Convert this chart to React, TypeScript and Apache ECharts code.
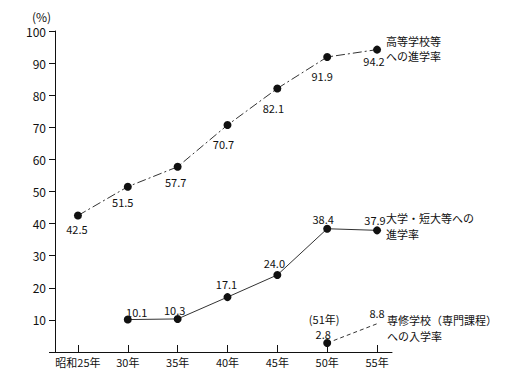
import React, { useEffect, useRef } from "react";
import * as echarts from "echarts";

const years = [25, 30, 35, 40, 45, 50, 55];
const yearLabels = ["昭和25年", "30年", "35年", "40年", "45年", "50年", "55年"];
const highSchool = [42.5, 51.5, 57.7, 70.7, 82.1, 91.9, 94.2];
const university = [null, 10.1, 10.3, 17.1, 24.0, 38.4, 37.9];
const vocational = [null, null, null, null, null, 2.8, 8.8];
const vocationalNote = "(51年)";
const yTicks = [10, 20, 30, 40, 50, 60, 70, 80, 90, 100];

// label offsets (style only)
const hsOffsets = [[-1, 13], [-5, 15], [-2, 15], [-4, 19], [-4, 20], [-5, 19], [-3, 11]];
const uniOffsets = [[0, 0], [9, -8], [-3, -9], [-1, -13], [-3, -12], [-4, -10], [-2, -10]];
const vocOffsets = [[0, 0], [0, 0], [0, 0], [0, 0], [0, 0], [-4, -9], [0, -11]];

const FONT = "'Noto Sans CJK JP', 'Noto Sans', sans-serif";
const INK = "#111";

function build(vals: (number | null)[], offsets: number[][], extra?: (i: number) => any) {
  const out: any[] = [];
  vals.forEach((v, i) => {
    if (v === null) return;
    const item: any = {
      value: [years[i], v],
      label: { offset: offsets[i] },
    };
    if (extra) Object.assign(item, extra(i));
    out.push(item);
  });
  return out;
}

export default function App() {
  const ref = useRef<HTMLDivElement>(null);
  useEffect(() => {
    document.body.style.margin = "0";
    const chart = echarts.init(ref.current!, null, { renderer: "svg" });
    const labelBase = {
      show: true,
      position: "inside",
      color: INK,
      fontSize: 11,
      fontFamily: FONT,
      formatter: (p: any) => p.value[1].toFixed(1),
    };
    chart.setOption({
      animation: false,
      backgroundColor: "#fff",
      grid: { left: 55, right: 116, top: 31, bottom: 26 },
      xAxis: {
        type: "value",
        min: 22.7,
        max: 56.5,
        splitLine: { show: false },
        axisLine: { lineStyle: { color: INK, width: 1 } },
        axisTick: { show: true, inside: true, length: 7, customValues: years, lineStyle: { color: INK } },
        axisLabel: {
          customValues: years,
          color: INK,
          fontSize: 11,
          fontFamily: FONT,
          margin: 4,
          formatter: (v: number) => yearLabels[years.indexOf(v)] ?? "",
        },
      },
      yAxis: {
        type: "value",
        min: 0,
        max: 100,
        interval: 10,
        splitLine: { show: false },
        axisLine: { show: true, lineStyle: { color: INK, width: 1 } },
        axisTick: { show: true, length: 6, lineStyle: { color: INK } },
        axisLabel: {
          color: INK,
          fontSize: 12,
          fontFamily: FONT,
          margin: 9,
          formatter: (v: number) => (yTicks.includes(v) ? String(v) : ""),
        },
      },
      graphic: [
        { type: "text", left: 32, top: 10, style: { text: "(%)", fill: INK, fontSize: 12, fontFamily: FONT } },
        { type: "text", left: 386, top: 33, style: { text: "高等学校等\nへの進学率", fill: INK, fontSize: 11, fontFamily: FONT, lineHeight: 15 } },
        { type: "text", left: 386, top: 210, style: { text: "大学・短大等への\n進学率", fill: INK, fontSize: 11, fontFamily: FONT, lineHeight: 16 } },
        { type: "text", left: 387, top: 312, style: { text: "専修学校（専門課程）\nへの入学率", fill: INK, fontSize: 11, fontFamily: FONT, lineHeight: 16 } },
      ],
      series: [
        {
          type: "line",
          name: "高等学校等への進学率",
          data: build(highSchool, hsOffsets),
          symbol: "circle",
          symbolSize: 8,
          itemStyle: { color: INK },
          lineStyle: { color: "#333", width: 1, type: [9, 3, 2, 3] },
          label: labelBase,
        },
        {
          type: "line",
          name: "大学・短大等への進学率",
          data: build(university, uniOffsets),
          symbol: "circle",
          symbolSize: 8,
          itemStyle: { color: INK },
          lineStyle: { color: "#333", width: 1 },
          label: labelBase,
        },
        {
          type: "line",
          name: "専修学校（専門課程）への入学率",
          data: build(vocational, vocOffsets, (i) =>
            i === 6 ? { symbolSize: 0.01 } : {}
          ),
          symbol: "circle",
          symbolSize: 8,
          itemStyle: { color: INK },
          lineStyle: { color: "#333", width: 1, type: [4, 3] },
          label: labelBase,
          markPoint: {
            symbol: "circle",
            symbolSize: 0.01,
            itemStyle: { color: "transparent" },
            label: {
              show: true,
              position: "inside",
              offset: [-3, -24],
              color: INK,
              fontSize: 11,
              fontFamily: FONT,
              formatter: vocationalNote,
            },
            data: [{ coord: [years[5], vocational[5]] }],
          },
        },
      ],
    });
    return () => chart.dispose();
  }, []);
  return <div ref={ref} style={{ width: 508, height: 378 }} />;
}
